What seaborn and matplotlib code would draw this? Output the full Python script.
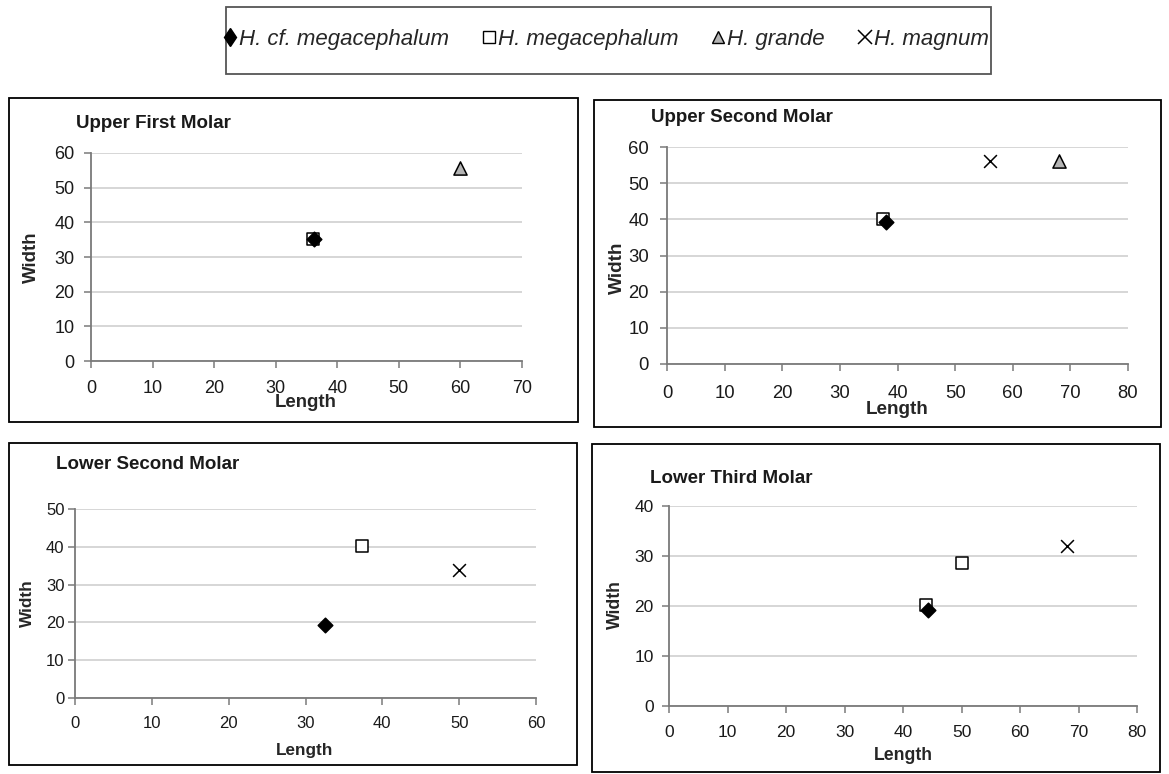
import matplotlib
matplotlib.use("Agg")
import matplotlib.pyplot as plt
from matplotlib.patches import Rectangle
from matplotlib.lines import Line2D
import seaborn as sns
import pandas as pd

# données
species = ["H. cf. megacephalum", "H. megacephalum", "H. grande", "H. magnum"]
panels = ["Upper First Molar", "Upper Second Molar", "Lower Second Molar", "Lower Third Molar"]

upper_first_species = ["H. megacephalum", "H. cf. megacephalum", "H. grande"]
upper_first_length = [36.0, 36.2, 60.0]
upper_first_width = [35.2, 35.1, 55.7]

upper_second_species = ["H. megacephalum", "H. cf. megacephalum", "H. magnum", "H. grande"]
upper_second_length = [37.5, 38.0, 56.0, 68.0]
upper_second_width = [40.0, 39.3, 56.0, 56.0]

lower_second_species = ["H. cf. megacephalum", "H. megacephalum", "H. magnum"]
lower_second_length = [32.6, 37.4, 50.0]
lower_second_width = [19.2, 40.2, 33.8]

lower_third_species = ["H. megacephalum", "H. cf. megacephalum", "H. megacephalum", "H. magnum"]
lower_third_length = [44.0, 44.2, 50.0, 68.0]
lower_third_width = [20.2, 19.2, 28.7, 32.0]

x_max = [70, 80, 60, 80]
y_max = [60, 60, 50, 40]

rows = []
for p, sp, L, W_ in zip(
    panels,
    [upper_first_species, upper_second_species, lower_second_species, lower_third_species],
    [upper_first_length, upper_second_length, lower_second_length, lower_third_length],
    [upper_first_width, upper_second_width, lower_second_width, lower_third_width],
):
    for s, l, w in zip(sp, L, W_):
        rows.append({"Panel": p, "Species": s, "Length": l, "Width": w})
df = pd.DataFrame(rows)

styles = {
    "H. cf. megacephalum": dict(marker="D", color="black", s=55),
    "H. megacephalum": dict(marker="s", color="white", s=70),
    "H. grande": dict(marker="^", color="#b4b4b4", s=90),
    "H. magnum": dict(marker="x", color="black", s=85),
}

sns.set_style("white")
plt.rcParams["font.family"] = ["Liberation Sans", "DejaVu Sans"]

fig = plt.figure(figsize=(11.69, 7.74), dpi=100)
W, H = 1169, 774


def fx(px):
    return px / W


def fy(py):
    return 1 - py / H


# positions en pixels : axes (x0, x1, y bas, y haut), cadre, titre, labels
layout = [
    dict(ax=(91, 522, 361, 153), frame=(9, 98, 578, 422), title=(76, 124),
         ylab=(31, 257), xlab=(306, 403), fs=13, lfs=13.4, xpad=9, ypad=7),
    dict(ax=(667, 1128, 364, 147), frame=(594, 100, 1161, 427), title=(651, 118),
         ylab=(617, 268), xlab=(897, 410), fs=13.3, lfs=13.6, xpad=10, ypad=8),
    dict(ax=(75, 536, 698, 509), frame=(9, 443, 577, 765), title=(56, 465),
         ylab=(27, 603), xlab=(305, 751), fs=12, lfs=12.3, xpad=8, ypad=2.5),
    dict(ax=(669, 1137, 706, 506), frame=(592, 444, 1160, 772), title=(650, 479),
         ylab=(615, 605), xlab=(903, 756), fs=12.5, lfs=12.7, xpad=9, ypad=6),
]

for i, (panel, lay) in enumerate(zip(panels, layout)):
    x0, x1, y0, y1 = lay["ax"]
    ax = fig.add_axes([fx(x0), fy(y0), (x1 - x0) / W, (y0 - y1) / H])
    sub = df[df["Panel"] == panel]
    for s in sub["Species"].unique():
        st = styles[s]
        pts = sub[sub["Species"] == s]
        if st["marker"] == "x":
            sns.scatterplot(data=pts, x="Length", y="Width", marker="x", color="black",
                            s=st["s"], linewidth=1.1, ax=ax, zorder=3)
        else:
            sns.scatterplot(data=pts, x="Length", y="Width", marker=st["marker"],
                            color=st["color"], edgecolor="black", s=st["s"],
                            linewidth=1.1, ax=ax, zorder=3)
    ax.set_xlim(0, x_max[i])
    ax.set_ylim(0, y_max[i])
    ax.set_xticks(range(0, x_max[i] + 1, 10))
    ax.set_yticks(range(0, y_max[i] + 1, 10))
    ax.yaxis.grid(True, color="#d6d6d6", linewidth=1.4)
    ax.set_axisbelow(True)
    for sp in ["top", "right"]:
        ax.spines[sp].set_visible(False)
    for sp in ["left", "bottom"]:
        ax.spines[sp].set_color("#7a7a7a")
        ax.spines[sp].set_linewidth(1.3)
    ax.tick_params(axis="both", direction="out", length=5, width=1.1, color="#7a7a7a",
                   labelsize=lay["fs"], labelcolor="#1a1a1a", bottom=True, left=True)
    ax.tick_params(axis="x", pad=lay["xpad"])
    ax.tick_params(axis="y", pad=lay["ypad"])
    ax.set_xlabel("Length", fontsize=lay["lfs"], fontweight="bold")
    ax.set_ylabel("Width", fontsize=lay["lfs"], fontweight="bold")
    ax.xaxis.set_label_coords(fx(lay["xlab"][0]), fy(lay["xlab"][1]), transform=fig.transFigure)
    ax.yaxis.set_label_coords(fx(lay["ylab"][0]), fy(lay["ylab"][1]), transform=fig.transFigure)
    ax.xaxis.label.set_va("center")
    ax.yaxis.label.set_va("center")
    fig.text(fx(lay["title"][0]), fy(lay["title"][1]), panel, fontsize=13.5,
             fontweight="bold", ha="left", va="center", color="#1a1a1a")

    fx0, fy0, fx1, fy1 = lay["frame"]
    fig.add_artist(Rectangle((fx(fx0), fy(fy1)), (fx1 - fx0) / W, (fy1 - fy0) / H,
                             transform=fig.transFigure, fill=False, edgecolor="black",
                             linewidth=1.3))

# légende commune
fig.add_artist(Rectangle((fx(226), fy(74)), (991 - 226) / W, 67 / H,
                         transform=fig.transFigure, fill=False, edgecolor="#555555",
                         linewidth=1.3))
handles = []
for s in species:
    st = styles[s]
    if st["marker"] == "x":
        h = Line2D([], [], marker="x", linestyle="", color="black", markersize=10,
                   markeredgewidth=1.1)
    elif st["marker"] == "D":
        h = Line2D([], [], marker="d", linestyle="", markerfacecolor="black",
                   markeredgecolor="black", markersize=9.5)
    else:
        h = Line2D([], [], marker=st["marker"], linestyle="", markerfacecolor=st["color"],
                   markeredgecolor="black", markersize=8, markeredgewidth=1.0)
    handles.append(h)
fig.legend(handles, species, loc="center", bbox_to_anchor=(fx(606), fy(39)), ncol=4,
           frameon=False, prop={"style": "italic", "size": 16}, handletextpad=0.1,
           columnspacing=1.5, handlelength=0.6, borderpad=0)

plt.savefig("out.png", dpi=100)
plt.close()
